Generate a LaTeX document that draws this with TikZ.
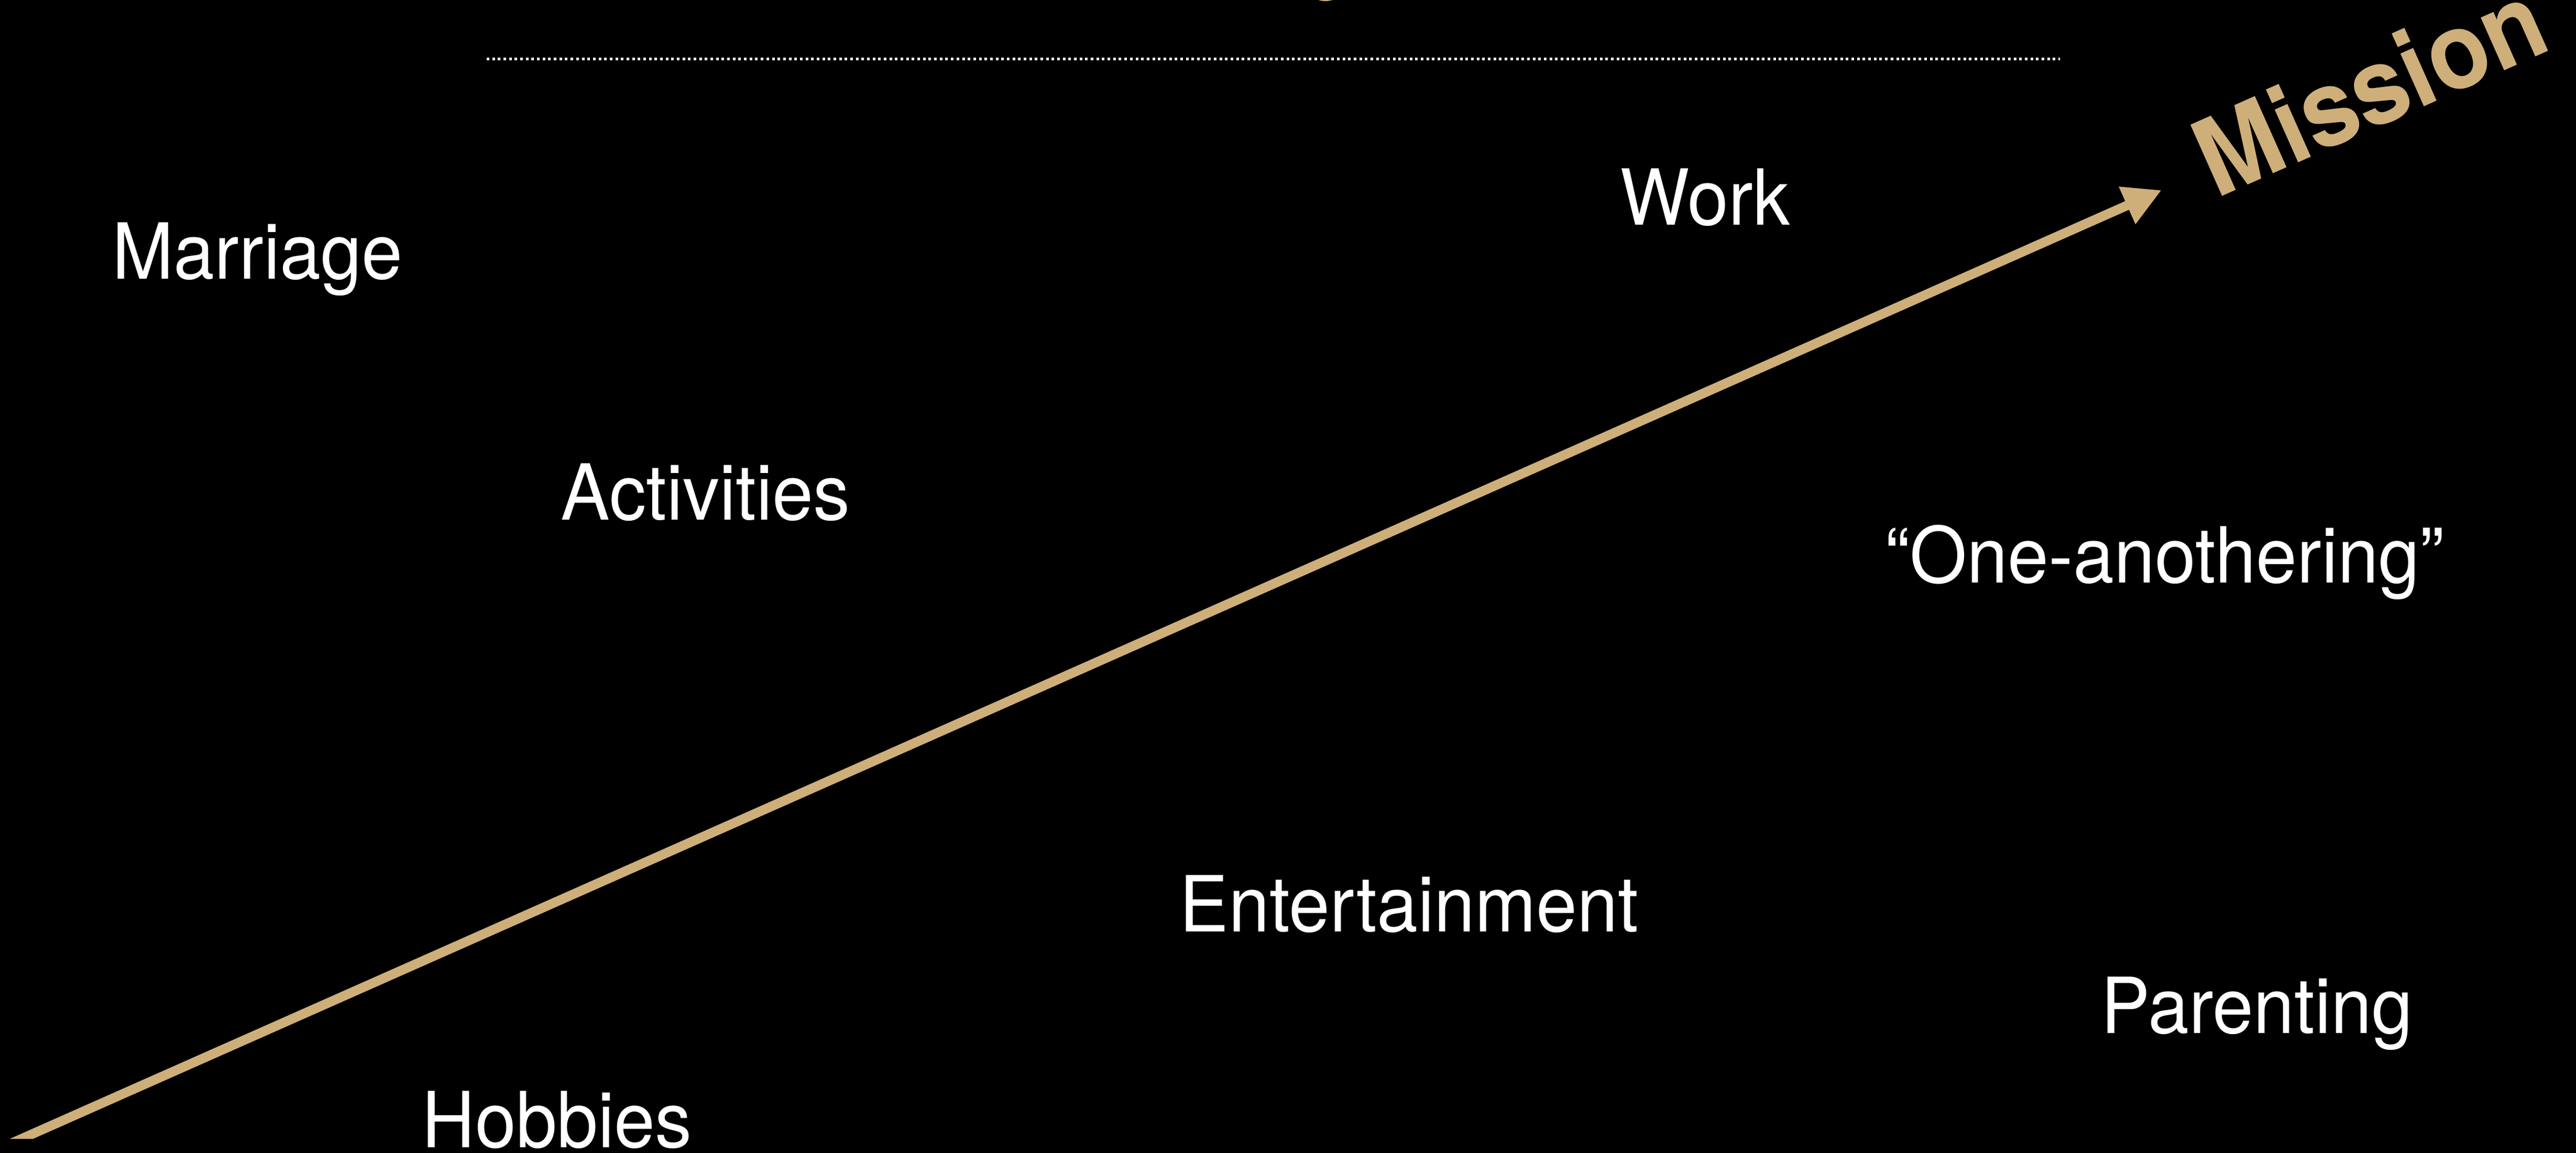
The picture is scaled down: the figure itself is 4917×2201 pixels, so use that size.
\documentclass[tikz,border=0pt]{standalone}
\usepackage{fontspec}
\setmainfont{TeX Gyre Heros}
\newfontfamily\labelfont[FakeStretch=0.95]{TeX Gyre Heros}
\newfontfamily\missionfont[FakeStretch=0.93]{TeX Gyre Heros}
\usetikzlibrary{arrows.meta}
\definecolor{tanarrow}{RGB}{206,175,122}
\tikzset{
  lbl/.style={text=white, inner sep=0pt, anchor=base west,
    font=\labelfont\fontsize{42}{50}\selectfont},
  missionlbl/.style={text=tanarrow, inner sep=0pt, anchor=base west, rotate=24,
    font=\missionfont\bfseries\fontsize{58}{68}\selectfont},
  mainarrow/.style={draw=tanarrow, line width=0.18cm,
    -{Triangle[length=0.72cm, width=0.73cm]}},
  dotrule/.style={draw=white, line width=0.05cm, dash pattern=on 0.05cm off 0.0567cm}
}
\begin{document}
\begin{tikzpicture}[x=0.01cm, y=-0.01cm]
  \useasboundingbox (0,0) rectangle (4917,2201);
  \fill[black] (0,0) rectangle (4917,2201);
  % tiny remnant of the cut-off title
  \fill[tanarrow] (2530,-4) ellipse [x radius=18, y radius=6];
  % dotted rule
  \coordinate (ruleL) at (929,113);
  \coordinate (ruleR) at (3932,113);
  \draw[dotrule] (ruleL) -- (ruleR);
  % labels
  \node[lbl] (marriage) at (214,533) {Marriage};
  \node[lbl] (activities) at (1070,993) {Activities};
  \node[lbl] (work) at (3092,430) {Work};
  \node[lbl] (one) at (3598,1113) {“One-anothering”};
  \node[lbl] (ent) at (2251,1778) {Entertainment};
  \node[lbl] (par) at (4010,1972) {Parenting};
  \node[lbl] (hob) at (805,2190) {Hobbies};
  \node[missionlbl] (mission) at (4230,380) {Mission};
  % arrow
  \coordinate (tip) at (4126,363);
  \coordinate (tail) at (7,2189);
  \begin{scope}
    \clip (0,0) rectangle (4917,2173);
    \draw[mainarrow] (tail) -- (tip);
  \end{scope}
\end{tikzpicture}
\end{document}
